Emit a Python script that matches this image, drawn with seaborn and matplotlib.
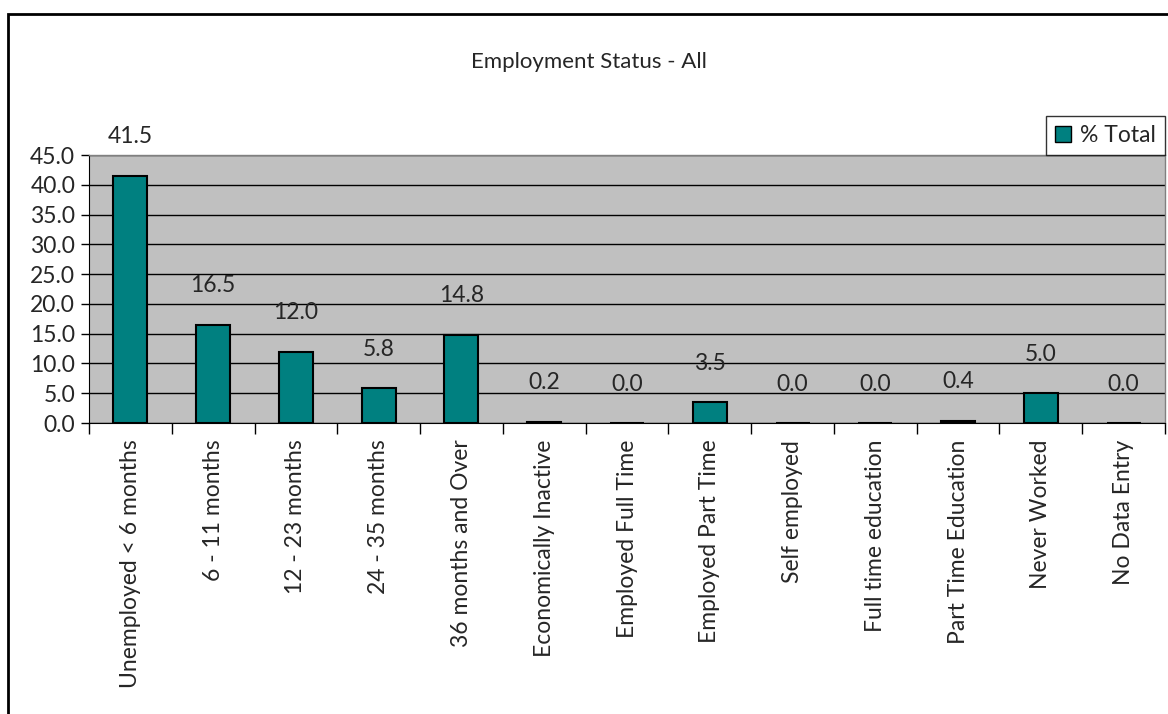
import matplotlib
matplotlib.use("Agg")
import matplotlib.pyplot as plt
import seaborn as sns
import pandas as pd
from matplotlib.patches import Rectangle, Patch

categories = ["Unemployed < 6 months", "6 - 11 months", "12 - 23 months", "24 - 35 months",
              "36 months and Over", "Economically Inactive", "Employed Full Time",
              "Employed Part Time", "Self employed", "Full time education",
              "Part Time Education", "Never Worked", "No Data Entry"]
values = [41.5, 16.5, 12.0, 5.8, 14.8, 0.2, 0.0, 3.5, 0.0, 0.0, 0.4, 5.0, 0.0]
yticks = [0, 5, 10, 15, 20, 25, 30, 35, 40, 45]
series_name = "% Total"
title = "Employment Status - All"

df = pd.DataFrame({"category": categories, "value": values})

sns.set_style("white")
plt.rcParams['font.family'] = ['Lato', 'DejaVu Sans']

FS = 16.5
W, H = 1168, 714
fig = plt.figure(figsize=(W / 100, H / 100), dpi=100)
ax = fig.add_axes([89 / W, 1 - 423 / H, (1165 - 89) / W, (423 - 155) / H])

teal = "#008080"
ax.set_facecolor("#C0C0C0")
sns.barplot(data=df, x="category", y="value", color=teal, edgecolor="black",
            linewidth=1.5, width=0.41, saturation=1, ax=ax, zorder=3)

ax.set_ylim(0, 45)
ax.set_xlim(-0.5, len(categories) - 0.5)
ax.set_yticks(yticks)
ax.set_yticklabels([f"{v:.1f}" for v in yticks], fontsize=FS)
ax.yaxis.grid(True, color="black", linewidth=1, zorder=1)
ax.set_axisbelow(True)
ax.set_xlabel("")
ax.set_ylabel("")

# x ticks at boundaries, labels at centers
ax.set_xticks([i - 0.5 for i in range(len(categories) + 1)], minor=False)
ax.set_xticklabels([])
ax.set_xticks(range(len(categories)), minor=True)
ax.set_xticklabels(categories, minor=True, rotation=90, fontsize=FS, va="top")
ax.tick_params(axis="x", which="major", direction="out", length=8, width=1, color="black", bottom=True)
ax.tick_params(axis="x", which="minor", length=0, pad=12)
ax.tick_params(axis="y", direction="out", length=6, width=1, color="black", left=True, pad=4)

for s in ["top", "right"]:
    ax.spines[s].set_color("#808080")
    ax.spines[s].set_linewidth(1)
ax.spines["left"].set_color("black")
ax.spines["bottom"].set_color("black")

for i, v in enumerate(values):
    ax.annotate(f"{v:.1f}", (i, v), xytext=(0, 28), textcoords="offset points",
                ha="center", va="center", fontsize=FS)

leg = ax.legend(handles=[Patch(facecolor=teal, edgecolor="black", label=series_name)],
                loc="lower right", bbox_to_anchor=(1.0, 1.0), borderaxespad=0,
                fontsize=FS, frameon=True, fancybox=False, handlelength=0.7,
                handleheight=0.7, handletextpad=0.4, borderpad=0.4)
leg.get_frame().set_edgecolor("black")
leg.get_frame().set_linewidth(1)

fig.text(589 / W, 1 - 62 / H, title, ha="center", va="center", fontsize=16)

fig.patches.append(Rectangle((8 / W, -0.1), 1.2, 1 - 14 / H + 0.1, transform=fig.transFigure,
                             fill=False, edgecolor="black", linewidth=2))

fig.savefig("out.png", dpi=100)
